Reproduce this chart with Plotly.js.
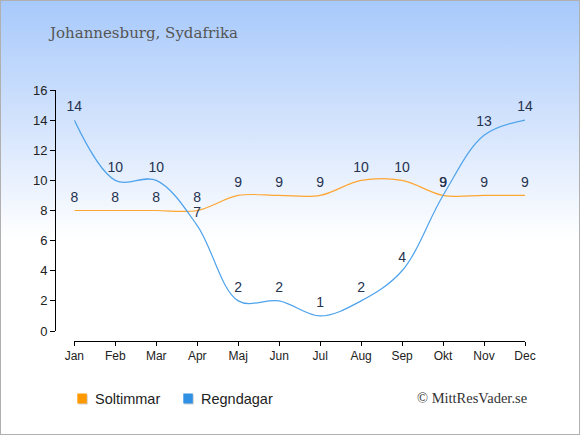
<!DOCTYPE html>
<html>
<head>
<meta charset="utf-8">
<script src="https://cdn.plot.ly/plotly-3.0.1.min.js"></script>
<style>
html,body{margin:0;padding:0;}
#wrap{position:relative;width:580px;height:435px;background:linear-gradient(to bottom,#a7c9fb 0%,#d6e5fd 30%,#ffffff 55%,#ffffff 100%);}
#wrap:after{content:"";position:absolute;left:0;top:0;right:0;bottom:0;border:1px solid #b0b0b0;pointer-events:none;}
#chart{width:580px;height:435px;}
</style>
</head>
<body>
<div id="wrap"><div id="chart"></div></div>
<script>
var months = ["Jan","Feb","Mar","Apr","Maj","Jun","Jul","Aug","Sep","Okt","Nov","Dec"];
var soltimmar = [8,8,8,8,9,9,9,10,10,9,9,9];
var regndagar = [14,10,10,7,2,2,1,2,4,9,13,14];
var yTicks = [0,2,4,6,8,10,12,14,16];
var seriesNames = ["Soltimmar","Regndagar"];
var titleText = "Johannesburg, Sydafrika";
var creditText = "© MittResVader.se";

// plot-area geometry (pixels) used to place the hand-drawn legend
var L = 55, R = 525, T = 90, B = 341;
function px(X){ return (X - L) / (R - L); }
function py(Y){ return (B - Y) / (B - T); }

var idx = months.map(function(m,i){return i;});
var labelFont = {family:"Liberation Sans, Arial, sans-serif", size:14, color:"#25324f"};
var colors = ["#ffa632","#4ea3ec"];
var swatch = ["#ff9900","#2f90e4"];

var traces = [
  {x:idx, y:soltimmar, text:soltimmar.map(String), mode:"lines+markers+text", textposition:"top center",
   marker:{size:7, opacity:0}, textfont:labelFont, line:{color:colors[0], width:1.2, shape:"spline", smoothing:1},
   showlegend:false, cliponaxis:false, hoverinfo:"none"},
  {x:idx, y:regndagar, text:regndagar.map(String), mode:"lines+markers+text", textposition:"top center",
   marker:{size:7, opacity:0}, textfont:labelFont, line:{color:colors[1], width:1.2, shape:"spline", smoothing:1},
   showlegend:false, cliponaxis:false, hoverinfo:"none"}
];

var legendX = [77.3, 183.3];
var shapes = [], annotations = [];
for (var i = 0; i < 2; i++) {
  shapes.push({type:"rect", xref:"paper", yref:"paper", x0:px(legendX[i]+1), x1:px(legendX[i]+10.5), y0:py(393.5+1), y1:py(403.5+1),
               fillcolor:"rgba(0,0,0,0.18)", line:{width:0}});
  shapes.push({type:"rect", xref:"paper", yref:"paper", x0:px(legendX[i]), x1:px(legendX[i]+9.5), y0:py(393.5), y1:py(403.5),
               fillcolor:swatch[i], line:{width:0}});
  annotations.push({text:seriesNames[i], xref:"paper", yref:"paper", x:px(legendX[i]+15.5), xanchor:"left", y:py(398.5), yanchor:"middle",
               showarrow:false, font:{family:"Liberation Sans, Arial, sans-serif", size:14.5, color:"#222"}});
}
annotations.push({text:creditText, xref:"paper", yref:"paper", x:px(529), xanchor:"right", y:py(397.5), yanchor:"middle",
                showarrow:false, font:{family:"Liberation Serif, Times New Roman, serif", size:14.5, color:"#333"}});

var layout = {
  width:580, height:435,
  paper_bgcolor:"rgba(0,0,0,0)", plot_bgcolor:"rgba(0,0,0,0)",
  margin:{l:L, r:580-R, t:T, b:435-B},
  title:{text:titleText, x:50/580, xanchor:"left", y:1-33/435, yanchor:"middle", xref:"container", yref:"container",
         font:{family:"DejaVu Serif, Georgia, serif", size:15, color:"#555555"}},
  xaxis:{domain:[px(74.3),1], range:[0,11], anchor:"free", position:0, tickvals:idx, ticktext:months,
         showline:true, linecolor:"#000", linewidth:1, ticks:"outside", ticklen:4, tickcolor:"#000",
         showgrid:false, zeroline:false, tickfont:{family:"Liberation Sans, Arial, sans-serif", size:12, color:"#222"}},
  yaxis:{domain:[py(331),1], range:[0,16], anchor:"free", position:0, tickvals:yTicks,
         showline:true, linecolor:"#000", linewidth:1, ticks:"outside", ticklen:5, tickcolor:"#000",
         showgrid:false, zeroline:false, tickfont:{family:"Liberation Sans, Arial, sans-serif", size:13, color:"#222"}},
  showlegend:false,
  shapes:shapes,
  annotations:annotations
};

Plotly.newPlot("chart", traces, layout, {staticPlot:true, displayModeBar:false});
</script>
</body>
</html>
